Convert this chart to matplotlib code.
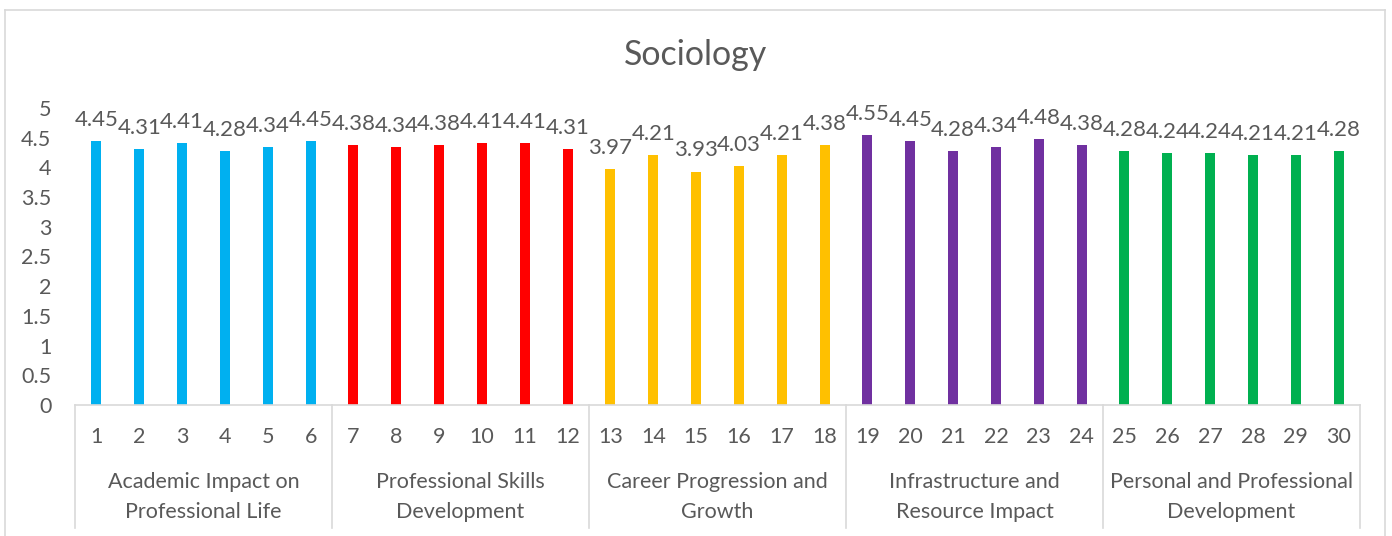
import matplotlib
matplotlib.use('Agg')
import matplotlib.pyplot as plt
from matplotlib.lines import Line2D

plt.rcParams['font.family'] = ['Lato', 'DejaVu Sans']

items = [str(i) for i in range(1, 31)]
values = [4.45, 4.31, 4.41, 4.28, 4.34, 4.45,
          4.38, 4.34, 4.38, 4.41, 4.41, 4.31,
          3.97, 4.21, 3.93, 4.03, 4.21, 4.38,
          4.55, 4.45, 4.28, 4.34, 4.48, 4.38,
          4.28, 4.24, 4.24, 4.21, 4.21, 4.28]
groups = ['Academic Impact on\nProfessional Life',
          'Professional Skills\nDevelopment',
          'Career Progression and\nGrowth',
          'Infrastructure and\nResource Impact',
          'Personal and Professional\nDevelopment']
group_colors = ['#00B0F0', '#FF0000', '#FFC000', '#7030A0', '#00B050']
group_size = 6

txt = '#595959'
line_c = '#D9D9D9'

fig = plt.figure(figsize=(13.92, 5.36), dpi=100)
ax = fig.add_axes([75 / 1392, 1 - 405 / 536, (1360 - 75) / 1392, 297 / 536])

colors = [group_colors[i // group_size] for i in range(len(values))]
xs = list(range(len(values)))
bars = ax.bar(xs, values, width=0.23, color=colors)

for x, v in zip(xs, values):
    ax.annotate(f'{v:.2f}', (x, v), xytext=(0, 8), textcoords='offset points',
                ha='center', va='bottom', fontsize=16, color=txt, clip_on=False)

ax.set_xlim(-0.5, len(values) - 0.5)
ax.set_ylim(0, 5)
ax.set_yticks([0, 0.5, 1, 1.5, 2, 2.5, 3, 3.5, 4, 4.5, 5])
ax.set_yticklabels(['0', '0.5', '1', '1.5', '2', '2.5', '3', '3.5', '4', '4.5', '5'])
ax.set_xticks(xs)
ax.set_xticklabels(items)
ax.tick_params(axis='y', length=0, pad=17, labelsize=15.5, labelcolor=txt)
ax.tick_params(axis='x', length=0, pad=16, labelsize=15.5, labelcolor=txt)

for s in ['top', 'right', 'left']:
    ax.spines[s].set_visible(False)
ax.spines['bottom'].set_color(line_c)
ax.spines['bottom'].set_linewidth(1.2)

tr = ax.get_xaxis_transform()
for k in range(len(groups) + 1):
    xb = k * group_size - 0.5
    ax.add_line(Line2D([xb, xb], [0, -0.415], transform=tr, color=line_c,
                       lw=1.2, clip_on=False))
for k, g in enumerate(groups):
    xc = k * group_size + (group_size - 1) / 2
    ax.text(xc, -0.31, g, transform=tr, ha='center', va='center',
            fontsize=15.5, color=txt, linespacing=1.6)

fig.text(0.5, 1 - 55 / 536, 'Sociology', ha='center', va='center',
         fontsize=24.5, color=txt)

# chart border
fig.add_artist(Line2D([5 / 1392, 5 / 1392], [0, 1 - 10 / 536],
                      transform=fig.transFigure, color=line_c, lw=1.2))
fig.add_artist(Line2D([5 / 1392, 1385 / 1392], [1 - 10 / 536, 1 - 10 / 536],
                      transform=fig.transFigure, color=line_c, lw=1.2))
fig.add_artist(Line2D([1385 / 1392, 1385 / 1392], [0, 1 - 10 / 536],
                      transform=fig.transFigure, color=line_c, lw=1.2))

fig.savefig('out.png', dpi=100)
